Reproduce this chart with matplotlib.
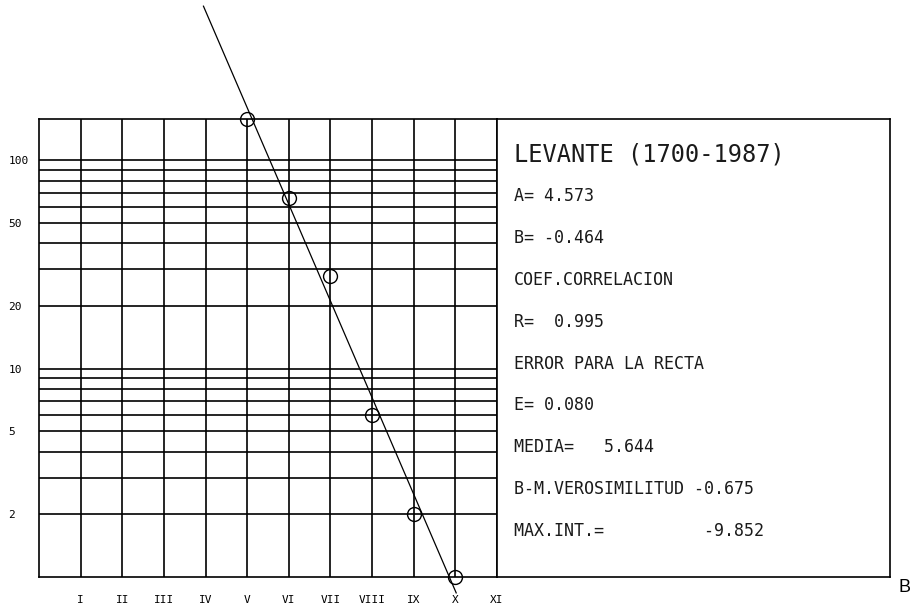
import matplotlib.pyplot as plt
import numpy as np

# data
intensity = [5, 6, 7, 8, 9, 10]
counts = [158, 66, 28, 6, 2, 1]
roman = ["I", "II", "III", "IV", "V", "VI", "VII", "VIII", "IX", "X", "XI"]
ytick_vals = [2, 5, 10, 20, 50, 100]
ytick_labels = ["2", "5", "10", "20", "50", "100"]
grid_vals = [2, 3, 4, 5, 6, 7, 8, 9, 10, 20, 30, 40, 50, 60, 70, 80, 90, 100]

A = 4.573
B = -0.464
line_range = [3.95, 10.02]

info_lines = [
    "A= 4.573",
    "B= -0.464",
    "COEF.CORRELACION",
    "R=  0.995",
    "ERROR PARA LA RECTA",
    "E= 0.080",
    "MEDIA=   5.644",
    "B-M.VEROSIMILITUD -0.675",
    "MAX.INT.=          -9.852",
]
title = "LEVANTE (1700-1987)"

mono = "DejaVu Sans Mono"
ink = "#1a1a1a"

fig = plt.figure(figsize=(9.24, 6.10), dpi=100)
ax = fig.add_axes([39 / 924, 33 / 610, 458 / 924, 458 / 610])

ax.set_yscale("log")
ax.set_xlim(0, 11)
ax.set_ylim(1, 158)

for x in range(1, 11):
    ax.axvline(x, color="black", lw=1.2, zorder=1)
for y in grid_vals:
    ax.axhline(y, color="black", lw=1.2, zorder=1)

xs = np.array(line_range)
ax.plot(xs, 10 ** (A + B * xs), color="black", lw=0.9, clip_on=False, zorder=3)
ax.plot(intensity, counts, "o", ms=10, mfc="none", mec="black", mew=1.0,
        clip_on=False, zorder=4)

ax.set_xticks(range(1, 12))
ax.set_xticklabels(roman, fontsize=8, family=mono)
ax.tick_params(axis="x", length=0, pad=13)
ax.set_yticks(ytick_vals)
ax.set_yticklabels(ytick_labels, fontsize=8, family=mono, ha="left")
ax.yaxis.set_minor_locator(plt.NullLocator())
ax.tick_params(axis="y", length=0, pad=22)
for s in ax.spines.values():
    s.set_linewidth(1.2)

box = fig.add_axes([497 / 924, 33 / 610, 393 / 924, 458 / 610])
box.set_xticks([])
box.set_yticks([])
for s in box.spines.values():
    s.set_linewidth(1.2)

box.text(0.043, 0.922, title, transform=box.transAxes, family=mono,
         fontsize=17, va="center", ha="left", color=ink)
y0 = 0.832
step = 0.0915
for i, t in enumerate(info_lines):
    box.text(0.043, y0 - i * step, t, transform=box.transAxes, family=mono,
             fontsize=12, va="center", ha="left", color=ink)

fig.text(905 / 924, 1 - 588 / 610, "B", fontsize=13, family="Liberation Sans",
         va="center", ha="center")

fig.savefig("out.png", dpi=100)
